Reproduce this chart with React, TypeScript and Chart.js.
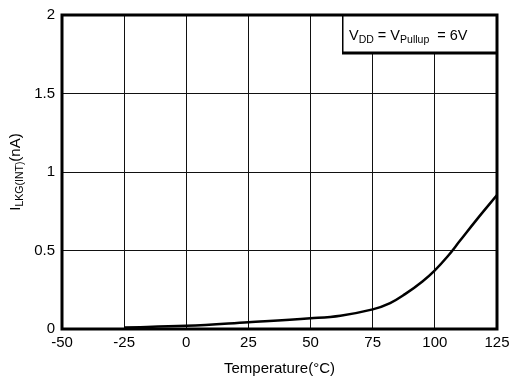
import React, { useEffect, useRef } from "react";
import { Chart, registerables } from "chart.js";

Chart.register(...registerables);

const temperatures = [-25, 0, 25, 50, 62, 75, 82, 88, 95, 100, 105, 110, 117, 125];
const leakage = [0.01, 0.02, 0.043, 0.068, 0.085, 0.125, 0.165, 0.222, 0.303, 0.374, 0.46, 0.56, 0.7, 0.853];
const xMin = -50;
const xMax = 125;
const xStep = 25;
const yMin = 0;
const yMax = 2;
const yStep = 0.5;

const FONT = "'Liberation Sans', Arial, sans-serif";

function drawSubText(
  ctx: CanvasRenderingContext2D,
  parts: { t: string; sub?: boolean }[],
  x: number,
  y: number,
  size: number,
  subSize: number,
  subDrop: number,
  align: "left" | "center"
) {
  let total = 0;
  const widths: number[] = [];
  for (const p of parts) {
    ctx.font = `${p.sub ? subSize : size}px ${FONT}`;
    const w = ctx.measureText(p.t).width;
    widths.push(w);
    total += w;
  }
  let cx = align === "center" ? x - total / 2 : x;
  ctx.textAlign = "left";
  ctx.textBaseline = "alphabetic";
  parts.forEach((p, i) => {
    ctx.font = `${p.sub ? subSize : size}px ${FONT}`;
    ctx.fillText(p.t, cx, p.sub ? y + subDrop : y);
    cx += widths[i];
  });
}

const decorPlugin = {
  id: "decor",
  afterDraw(chart: any) {
    const ctx: CanvasRenderingContext2D = chart.ctx;
    const a = chart.chartArea;
    ctx.save();
    ctx.fillStyle = "#000";
    ctx.strokeStyle = "#000";

    // legend box
    const bx = 342;
    const by = a.top;
    const bw = a.right - bx;
    const bh = 38;
    ctx.fillStyle = "#fff";
    ctx.fillRect(bx, by, bw, bh);
    ctx.lineWidth = 1.5;
    ctx.beginPath();
    ctx.moveTo(bx + 0.75, by);
    ctx.lineTo(bx + 0.75, by + bh);
    ctx.stroke();
    ctx.lineWidth = 3;
    ctx.beginPath();
    ctx.moveTo(bx, by + bh);
    ctx.lineTo(a.right, by + bh);
    ctx.stroke();
    ctx.fillStyle = "#000";
    drawSubText(
      ctx,
      [
        { t: "V" },
        { t: "DD", sub: true },
        { t: " = V" },
        { t: "Pullup", sub: true },
        { t: "  = 6V" },
      ],
      bx + 7,
      by + 25,
      14.5,
      10.5,
      3,
      "left"
    );

    // plot border
    ctx.lineWidth = 3;
    ctx.strokeRect(a.left, a.top, a.right - a.left, a.bottom - a.top);

    // x title
    ctx.font = `15px ${FONT}`;
    ctx.textAlign = "center";
    ctx.textBaseline = "alphabetic";
    ctx.fillText("Temperature(°C)", (a.left + a.right) / 2, 373);

    // y title
    ctx.save();
    ctx.translate(20, (a.top + a.bottom) / 2);
    ctx.rotate(-Math.PI / 2);
    drawSubText(
      ctx,
      [{ t: "I" }, { t: "LKG(INT)", sub: true }, { t: "(nA)" }],
      0,
      0,
      15,
      10.5,
      3,
      "center"
    );
    ctx.restore();
    ctx.restore();
  },
};

export default function App() {
  const ref = useRef<HTMLCanvasElement | null>(null);
  useEffect(() => {
    document.body.style.margin = "0";
    const canvas = ref.current!;
    const chart = new Chart(canvas, {
      type: "line",
      data: {
        datasets: [
          {
            data: temperatures.map((t, i) => ({ x: t, y: leakage[i] })),
            borderColor: "#000",
            borderWidth: 2.5,
            pointRadius: 0,
            tension: 0.4,
            fill: false,
          },
        ],
      },
      options: {
        animation: false,
        responsive: false,
        maintainAspectRatio: false,
        layout: { padding: { top: 15, right: 14, left: 0, bottom: 0 } },
        plugins: { legend: { display: false }, tooltip: { enabled: false } },
        scales: {
          x: {
            type: "linear",
            min: xMin,
            max: xMax,
            border: { display: false },
            grid: { color: "#111", lineWidth: 1, drawTicks: false },
            ticks: {
              stepSize: xStep,
              color: "#000",
              padding: 5,
              maxRotation: 0,
              font: { family: FONT, size: 15 },
            },
            afterFit: (s: any) => {
              s.height = 50;
              s.paddingLeft = 0;
              s.paddingRight = 0;
            },
          },
          y: {
            type: "linear",
            min: yMin,
            max: yMax,
            border: { display: false },
            grid: { color: "#111", lineWidth: 1, drawTicks: false },
            ticks: {
              stepSize: yStep,
              color: "#000",
              padding: 7,
              font: { family: FONT, size: 15 },
              callback: (v: any) => String(Number(v)),
            },
            afterFit: (s: any) => {
              s.width = 62;
              s.paddingTop = 0;
              s.paddingBottom = 0;
            },
          },
        },
      },
      plugins: [decorPlugin],
    } as any);
    return () => chart.destroy();
  }, []);
  return (
    <div style={{ position: "absolute", left: 0, top: 0, width: 511, height: 379 }}>
      <canvas ref={ref} width={511} height={379} style={{ width: 511, height: 379 }} />
    </div>
  );
}
